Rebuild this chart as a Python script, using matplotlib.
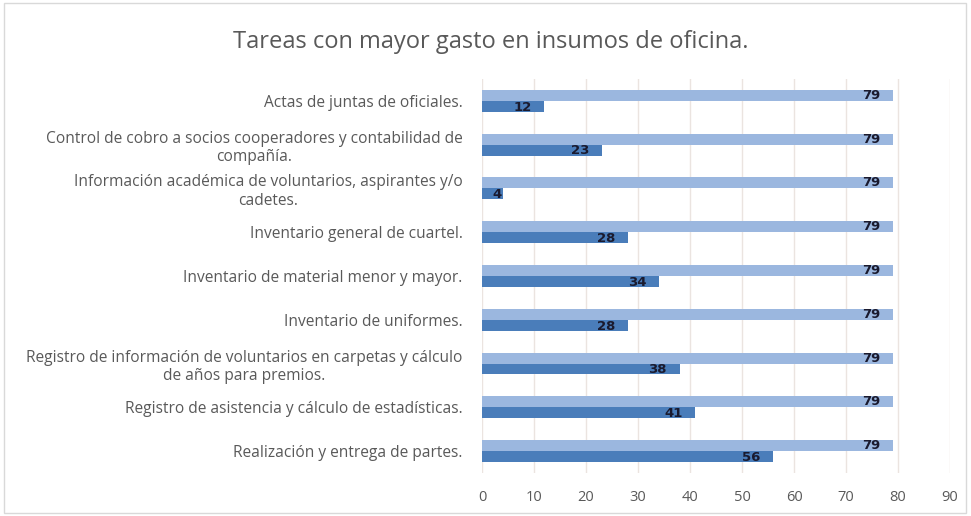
import matplotlib.pyplot as plt
import numpy as np

# Task names, top to bottom as they appear on the chart
tareas = [
    'Actas de juntas de oficiales.',
    'Control de cobro a socios cooperadores y contabilidad de\ncompañía.',
    'Información académica de voluntarios, aspirantes y/o\ncadetes.',
    'Inventario general de cuartel.',
    'Inventario de material menor y mayor.',
    'Inventario de uniformes.',
    'Registro de información de voluntarios en carpetas y cálculo\nde años para premios.',
    'Registro de asistencia y cálculo de estadísticas.',
    'Realización y entrega de partes.',
]
total = [79, 79, 79, 79, 79, 79, 79, 79, 79]
gasto = [12, 23, 4, 28, 34, 28, 38, 41, 56]
ticks = [0, 10, 20, 30, 40, 50, 60, 70, 80, 90]

gris = '#595959'
claro = '#9bb7df'
oscuro = '#4a7dba'

fig = plt.figure(figsize=(9.71, 5.16), dpi=100)
ax = fig.add_axes([0.4964, 0.0833, 0.9784 - 0.4964, 0.847 - 0.0833])

y = np.arange(len(tareas))
h = 0.25
ax.barh(y - h / 2, total, height=h, color=claro, zorder=2)
ax.barh(y + h / 2, gasto, height=h, color=oscuro, zorder=2)

# value labels, inside the bar end
for yi, v in zip(y, total):
    ax.text(max(v - 4.2, 2.9), yi - h / 2, str(v), ha='center', va='center',
            fontsize=9.5, fontweight='bold', color='#1a1a2e', family='DejaVu Sans', zorder=3)
for yi, v in zip(y, gasto):
    ax.text(max(v - 4.2, 2.9), yi + h / 2 + 0.02, str(v), ha='center', va='center',
            fontsize=9.5, fontweight='bold', color='#1a1a2e', family='DejaVu Sans', zorder=3)

ax.set_xlim(0, 90)
ax.set_ylim(len(tareas) - 0.5, -0.5)
ax.set_xticks(ticks)
ax.set_xticklabels([str(t) for t in ticks], fontsize=10.5, color=gris, family='Open Sans')
ax.set_yticks(y)
ax.set_yticklabels(tareas, fontsize=11.2, color=gris, family='Open Sans',
                   multialignment='center', linespacing=1.2)
ax.tick_params(axis='both', length=0)
ax.tick_params(axis='y', pad=14)
ax.tick_params(axis='x', pad=12)
ax.grid(axis='x', color='#ebe4e0', linewidth=1, zorder=0)
for s in ax.spines.values():
    s.set_visible(False)

fig.text(0.505, 0.918, 'Tareas con mayor gasto en insumos de oficina.', ha='center', va='center',
         fontsize=17, color=gris, family='Open Sans')

# outer chart frame
fig.patches.append(plt.Rectangle((0.004, 0.006), 0.991, 0.988, transform=fig.transFigure,
                                 fill=False, edgecolor='#d9d9d9', linewidth=1))

fig.savefig('out.png', dpi=100)
